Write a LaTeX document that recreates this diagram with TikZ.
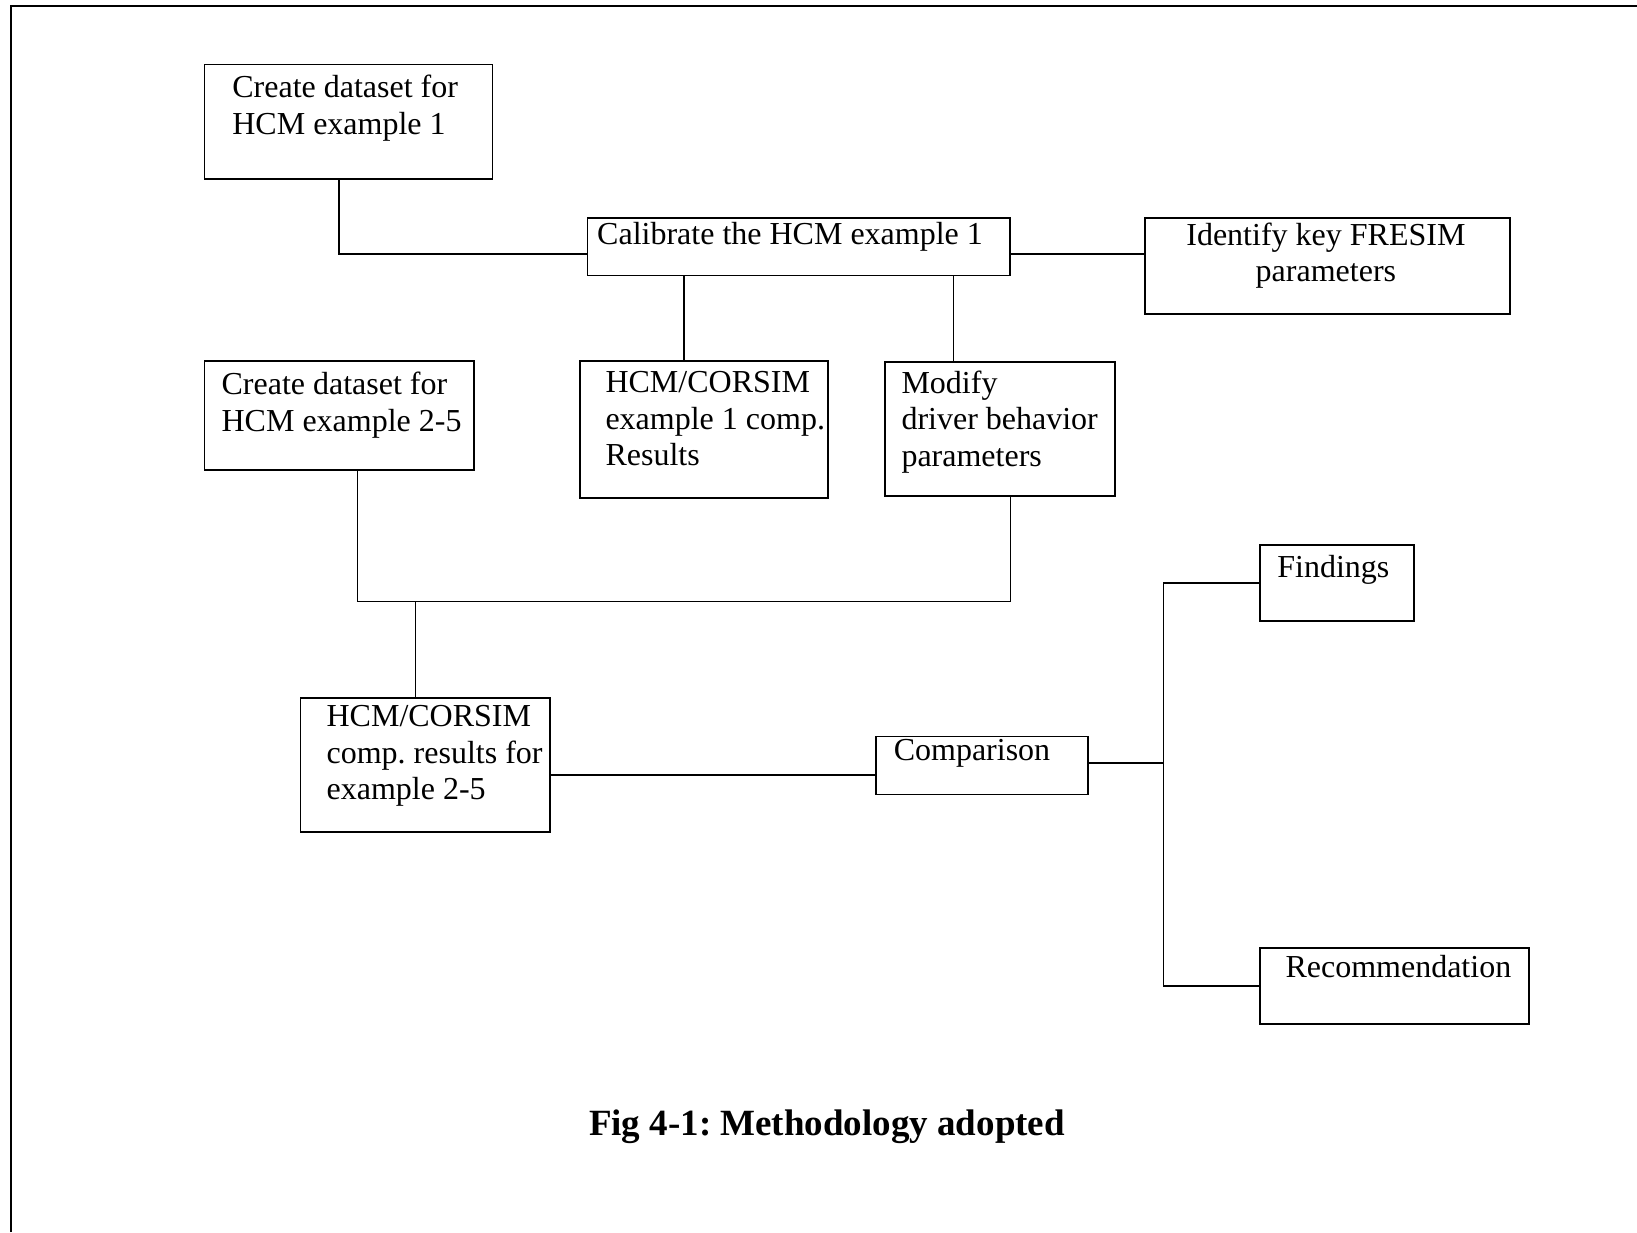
\documentclass[tikz,border=0pt]{standalone}
\usepackage{fontspec}
\setmainfont{Liberation Serif}
\frenchspacing
\usepackage{tikz}
\usetikzlibrary{positioning,calc}

\begin{document}
\begin{tikzpicture}[
  x=0.4pt, y=-0.4pt,
  box/.style   ={draw, line width=0.7pt, anchor=north west, inner sep=0pt},
  lbl/.style   ={inner sep=0pt, align=left, font=\fontsize{12.8}{14.6}\selectfont},
  link/.style  ={line width=0.65pt},
  frame/.style ={line width=0.9pt},
  title/.style ={anchor=base, inner sep=0pt, font=\fontsize{14.8}{17}\selectfont\bfseries},
]
\useasboundingbox (0,0) rectangle (1637,1232);

% ── page frame ───────────────────────────────────────────────────────
\draw[frame] (11,1232) -- (11,6) -- (1637,6);

% ── top row ──────────────────────────────────────────────────────────
\node[box, minimum width=115.2pt, minimum height=45.9pt] (ds1) at (203.6,63.7) {};
\node[lbl, below right=4.5pt and 11.3pt of ds1.north west] (ds1txt)
  {Create dataset for\\HCM example 1};

\node[box, minimum width=169.1pt, minimum height=23pt] (cal) at (586.7,217) {};
\node[lbl, below right=2pt and 4pt of cal.north west] (caltxt)
  {Calibrate the HCM example 1};

\node[box, minimum width=146pt, minimum height=38.4pt] (key) at (1144,217) {};
\node[lbl, align=center, below=2pt of key.north, xshift=-0.6pt] (keytxt)
  {Identify key FRESIM\\parameters};

% ── middle row ───────────────────────────────────────────────────────
\node[box, minimum width=107.8pt, minimum height=43.5pt] (ds25) at (203.6,360) {};
\node[lbl, below right=4.6pt and 7pt of ds25.north west] (ds25txt)
  {Create dataset for\\HCM example 2-5};

\node[box, minimum width=99.2pt, minimum height=54.8pt] (res1) at (579,360) {};
\node[lbl, below right=4.4pt and 10.4pt of res1.north west] (res1txt)
  {HCM/CORSIM\\example 1 comp.\\Results};

\node[box, minimum width=92pt, minimum height=53.6pt] (mod) at (884,361) {};
\node[lbl, below right=3.6pt and 6.8pt of mod.north west] (modtxt)
  {Modify\\driver behavior\\parameters};

% ── lower row ────────────────────────────────────────────────────────
\node[box, minimum width=99.8pt, minimum height=53.6pt] (res25) at (299.6,697) {};
\node[lbl, below right=3.2pt and 10.6pt of res25.north west] (res25txt)
  {HCM/CORSIM\\comp. results for\\example 2-5};

\node[box, minimum width=84.8pt, minimum height=23.2pt] (comp) at (875,735.7) {};
\node[lbl, below right=1.4pt and 7.3pt of comp.north west] (comptxt) {Comparison};

\node[box, minimum width=61.6pt, minimum height=30.4pt] (find) at (1259.3,544) {};
\node[lbl, below right=4.4pt and 7pt of find.north west] (findtxt) {Findings};

\node[box, minimum width=107.6pt, minimum height=30.4pt] (rec) at (1259,947) {};
\node[lbl, below right=3.2pt and 10.4pt of rec.north west] (rectxt) {Recommendation};

% ── connectors ───────────────────────────────────────────────────────
\coordinate (calin)  at ($(cal.north west)!0.62!(cal.south west)$);
\coordinate (calout) at ($(cal.north east)!0.62!(cal.south east)$);
\draw[link] ($(ds1.south west)!0.467!(ds1.south east)$) |- (calin);
\draw[link] (calout) -- (calout -| key.west);
\coordinate (drop1) at ($(cal.south west)!0.229!(cal.south east)$);
\coordinate (drop2) at ($(cal.south west)!0.864!(cal.south east)$);
\draw[link] (drop1) -- (drop1 |- res1.north);
\draw[link] (drop2) -- (drop2 |- mod.north);

\coordinate (merge) at (415.5,601.4);
\coordinate (modup) at ($(mod.south west)!0.546!(mod.south east)$);
\draw[link] ($(ds25.south west)!0.568!(ds25.south east)$) |- (merge) -| (modup);
\draw[link] (merge) -- (merge |- res25.north);

\coordinate (resout) at ($(res25.north east)!0.575!(res25.south east)$);
\draw[link] (resout) -- (resout -| comp.west);

\coordinate (spine) at (1163.5,762.7);
\draw[link] (comp.east |- spine) -- (spine);
\draw[link] (find.west) -| (spine) |- (rec.west);

% ── caption ──────────────────────────────────────────────────────────
\node[title] (caption) at (827,1135.5) {Fig 4-1: Methodology adopted};

\end{tikzpicture}
\end{document}
